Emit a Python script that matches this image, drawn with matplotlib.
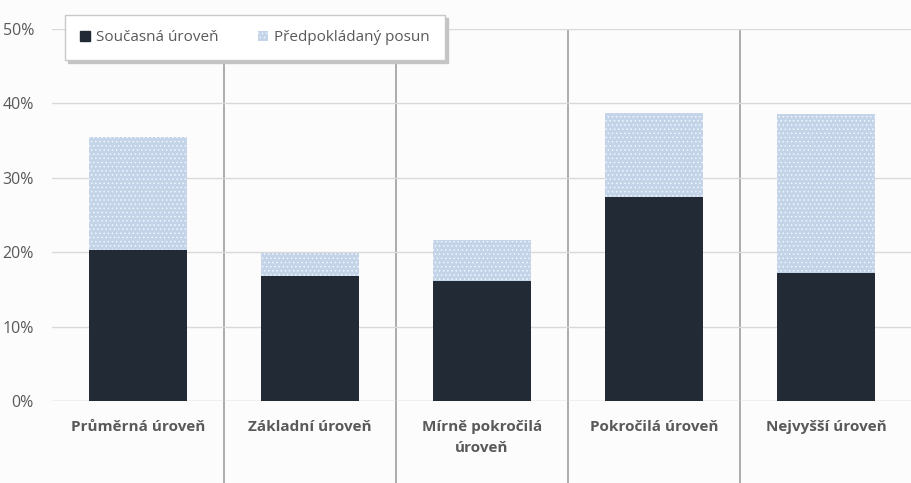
import matplotlib
matplotlib.use("Agg")
import matplotlib.pyplot as plt
from matplotlib.ticker import PercentFormatter
from matplotlib.lines import Line2D

categories = ["Průměrná úroveň", "Základní úroveň", "Mírně pokročilá\núroveň",
              "Pokročilá úroveň", "Nejvyšší úroveň"]
current = [0.203, 0.168, 0.161, 0.274, 0.172]
shift = [0.152, 0.031, 0.055, 0.113, 0.214]
series_names = ["Současná úroveň", "Předpokládaný posun"]
yticks = [0, 0.1, 0.2, 0.3, 0.4, 0.5]

plt.rcParams['font.family'] = ['Open Sans', 'DejaVu Sans']
plt.rcParams['hatch.linewidth'] = 0.6

fig = plt.figure(figsize=(9.11, 4.83), dpi=100)
fig.patch.set_facecolor('#fcfcfc')
ax = fig.add_axes([52/911, 82/483, 860/911, 372/483])
ax.set_facecolor('#fcfcfc')

x = list(range(len(categories)))
ax.bar(x, current, width=0.57, color='#222a35', zorder=3, label=series_names[0])
ax.bar(x, shift, width=0.57, bottom=current, facecolor='#c3d4e9', edgecolor='#f2f6fb',
       hatch='....', linewidth=0, zorder=3, label=series_names[1])

ax.set_xlim(-0.5, len(categories) - 0.5)
ax.set_ylim(0, 0.5)
ax.set_yticks(yticks)
ax.yaxis.set_major_formatter(PercentFormatter(1.0, decimals=0))
ax.grid(axis='y', color='#d9d9d9', linewidth=1, zorder=0)
for s in ax.spines.values():
    s.set_visible(False)
ax.axhline(0, color='#d9d9d9', linewidth=1, zorder=2)
ax.tick_params(axis='y', length=0, pad=13, labelsize=11.5, labelcolor='#595959')
ax.set_xticks(x)
ax.set_xticklabels(categories, fontweight='bold', fontsize=11, color='#595959',
                   linespacing=1.6)
ax.tick_params(axis='x', length=0, pad=14)

# category separators
for i in range(1, len(categories)):
    ax.add_line(Line2D([i - 0.5, i - 0.5], [-0.11, 0.497], color='#a6a6a6',
                       linewidth=1.3, clip_on=False, zorder=1))

handles = [plt.Rectangle((0, 0), 1, 1, color='#222a35'),
           plt.Rectangle((0, 0), 1, 1, facecolor='#c3d4e9', edgecolor='#f2f6fb',
                         hatch='....', linewidth=0)]
leg = ax.legend(handles, series_names, loc='upper left', bbox_to_anchor=(0.015, 1.038),
                ncol=2, frameon=True, fancybox=False,
                shadow={'color': '#c4c4c4', 'alpha': 1.0}, fontsize=11,
                handlelength=0.65, handleheight=0.65, handletextpad=0.4,
                columnspacing=2.6, borderpad=1.0, borderaxespad=0)
leg.get_frame().set_edgecolor('#c8c8c8')
leg.get_frame().set_facecolor('white')
for t in leg.get_texts():
    t.set_color('#595959')
leg.set_zorder(5)

fig.savefig('out.png', dpi=100, facecolor=fig.get_facecolor())
